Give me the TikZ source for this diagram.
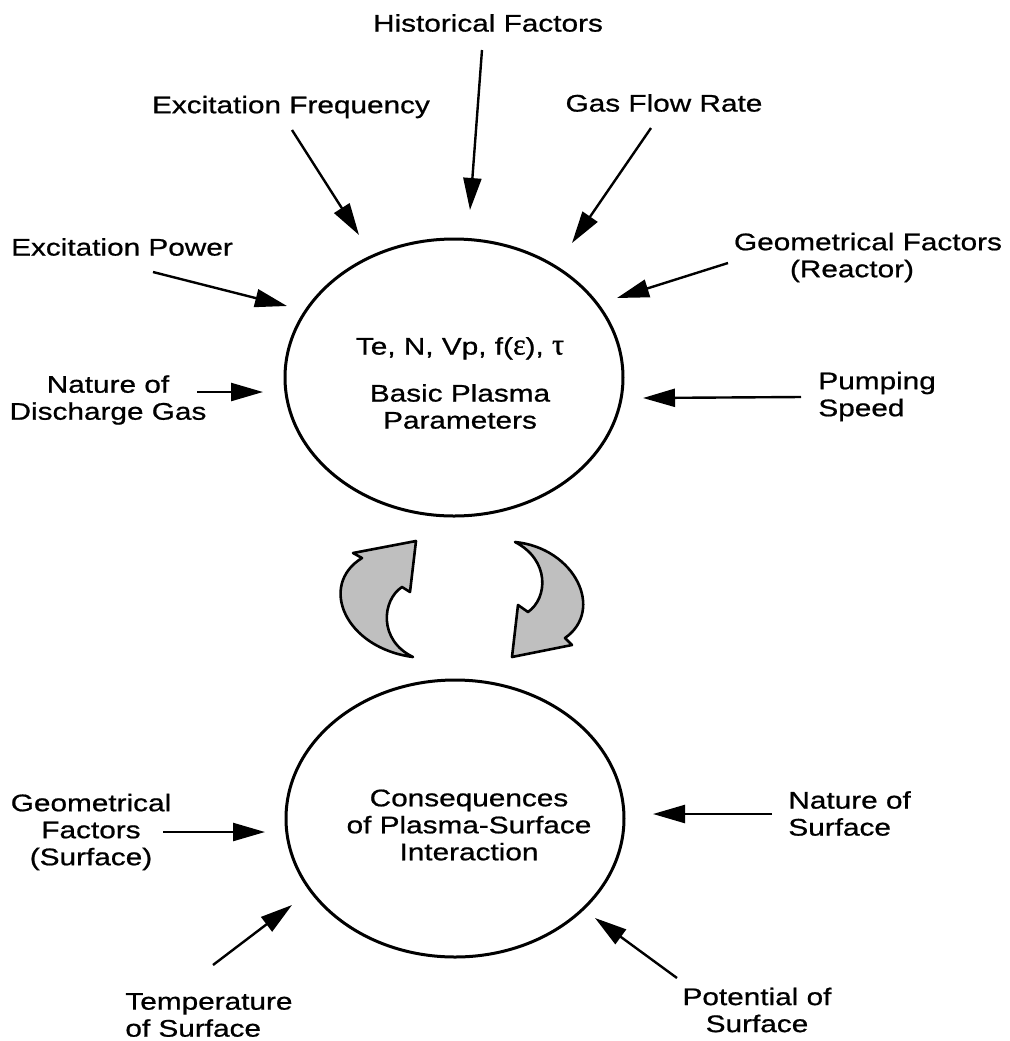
\documentclass[tikz,border=0pt]{standalone}
\usepackage{fontspec}
\setmainfont[FakeStretch=1.24,FakeBold=0.8]{Liberation Sans}
\newfontfamily\grk[FakeBold=0.8]{Liberation Serif}
\usetikzlibrary{arrows.meta,shapes.geometric}
\tikzset{
  feed/.style={line width=1.2pt,-{Triangle[length=16pt,width=9pt]}},
  lbl/.style={align=center,inner sep=0pt,font=\fontsize{12pt}{13.5pt}\selectfont},
  blob/.style={draw,ellipse,line width=1.5pt,minimum width=169pt,minimum height=138.5pt,inner sep=0pt},
  swirl/.style={draw,line width=1.3pt,fill=gray!50,line join=round}
}
\begin{document}
\begin{tikzpicture}[x=0.5pt,y=-0.5pt]
\useasboundingbox (0,0) rectangle (1009,1041);

\node[blob] (params) at (454,377.5) {};
\node[blob] (conseq) at (455,818.5) {};
\node[lbl] (params-txt) at (460,383) {Te, N, Vp, f({\grk\fontsize{15pt}{13.5pt}\selectfont ε}), {\grk\fontsize{15pt}{13.5pt}\selectfont τ}\\[10pt]Basic Plasma\\Parameters};
\node[lbl] (conseq-txt) at (469,825) {Consequences\\of Plasma-Surface\\Interaction};

\node[lbl] (hist) at (488,23) {Historical Factors};
\node[lbl] (freq) at (291,107) {Excitation Frequency};
\node[lbl] (flow) at (664,103) {Gas Flow Rate};
\node[lbl] (power) at (122,247) {Excitation Power};
\node[lbl] (reactor) at (868,257.5) {Geometrical Factors\\(Reactor)\hspace*{16pt}};
\node[lbl] (gas) at (108,400) {Nature of\\Discharge Gas};
\node[lbl,anchor=west,align=left] (pump) at (818,396.5) {Pumping\\Speed};
\node[lbl] (geosurf) at (91,832) {Geometrical\\Factors\\(Surface)};
\node[lbl,anchor=west,align=left] (natsurf) at (788,813.5) {Nature of\\Surface};
\node[lbl,anchor=west,align=left] (temp) at (125,1015) {Temperature\\of Surface};
\node[lbl] (potential) at (757,1010) {Potential of\\Surface};

\coordinate (t-hist) at (470,210);
\coordinate (t-freq) at (359,235);
\coordinate (t-flow) at (572,243);
\coordinate (t-power) at (287,306);
\coordinate (t-reactor) at (617,298);
\coordinate (t-gas) at (263,392);
\coordinate (t-pump) at (643,398);
\coordinate (t-geosurf) at (265,832);
\coordinate (t-natsurf) at (653,814);
\coordinate (t-temp) at (292,905);
\coordinate (t-potential) at (595,918);

\draw[feed] ([shift={(-6,27)}]hist.center) -- (t-hist);
\draw[feed] ([shift={(1,23)}]freq.center) -- (t-freq);
\draw[feed] ([shift={(-13,25)}]flow.center) -- (t-flow);
\draw[feed] ([shift={(31,25)}]power.center) -- (t-power);
\draw[feed] ([shift={(-140,5.5)}]reactor.center) -- (t-reactor);
\draw[feed] ([shift={(89,-8)}]gas.center) -- (t-gas);
\draw[feed] ([shift={(-17,0.5)}]pump.west) -- (t-pump);
\draw[feed] ([shift={(72,0)}]geosurf.center) -- (t-geosurf);
\draw[feed] ([shift={(-16,0.5)}]natsurf.west) -- (t-natsurf);
\draw[feed] ([shift={(88,-50)}]temp.west) -- (t-temp);
\draw[feed] ([shift={(-80,-32)}]potential.center) -- (t-potential);

\draw[swirl] (416,541) -- (410,592) -- (402,587)
  .. controls (382,600) and (378,640) .. (413,657)
  .. controls (345,648) and (318,585) .. (362,558) -- (353,553) -- cycle;
\draw[swirl] (515,542) .. controls (575,548) and (605,610) .. (565,638)
  -- (572,645) -- (512,657) -- (518,605) -- (528,612)
  .. controls (548,598) and (550,560) .. cycle;
\end{tikzpicture}
\end{document}
